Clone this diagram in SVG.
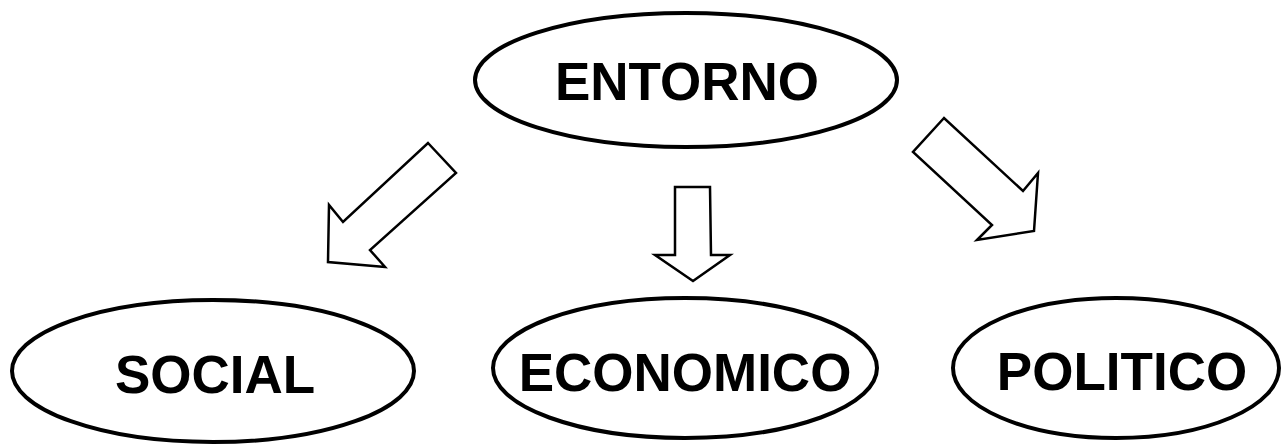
<svg xmlns="http://www.w3.org/2000/svg" width="1282" height="444" viewBox="0 0 1282 444">
<style>
.node ellipse{fill:#fff;stroke:#000;stroke-width:4}
.node text{font-family:"Liberation Sans",Arial,sans-serif;font-weight:bold;font-size:53px;text-anchor:middle;fill:#000}
.arrow{fill:#fff;stroke:#000;stroke-width:2.5;stroke-linejoin:miter}
</style>
<rect width="1282" height="444" fill="#fff"/>
<g id="entorno" class="node"><ellipse cx="686" cy="80" rx="211" ry="67"/><text x="687" y="100">ENTORNO</text></g>
<g id="social" class="node"><ellipse cx="213" cy="371" rx="201" ry="71"/><text x="215" y="393">SOCIAL</text></g>
<g id="economico" class="node"><ellipse cx="685" cy="368" rx="192" ry="70"/><text x="685" y="391">ECONOMICO</text></g>
<g id="politico" class="node"><ellipse cx="1116" cy="368" rx="163" ry="70"/><text x="1122" y="390">POLITICO</text></g>
<g id="connectors">
<polygon class="arrow" points="428,143 456,173 370,250 385,267 328,262 329,205 343,222"/>
<polygon class="arrow" points="675,187 710,187 711,255 730,255 693,281 655,255 675,255"/>
<polygon class="arrow" points="944,118 913,152 992,225 977,240 1034,231 1038,173 1023,191"/>
</g>
</svg>
